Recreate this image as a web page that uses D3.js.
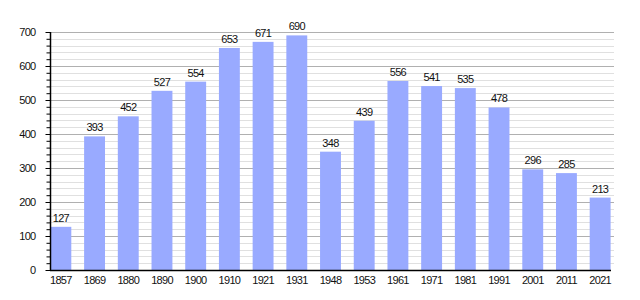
<!DOCTYPE html>
<html>
<head>
<meta charset="utf-8">
<script src="https://cdn.jsdelivr.net/npm/d3@7"></script>
<style>
body { margin: 0; background: #fff; }
svg text { font-family: "Liberation Sans", Arial, sans-serif; font-size: 11px; letter-spacing: -0.7px; fill: #111; }
</style>
</head>
<body>
<svg></svg>
<script>
const width = 640;
const height = 300;

const years = ["1857", "1869", "1880", "1890", "1900", "1910", "1921", "1931", "1948", "1953",
    "1961", "1971", "1981", "1991", "2001", "2011", "2021"];
const population = [127, 393, 452, 527, 554, 653, 671, 690, 348, 439, 556, 541, 535, 478, 296, 285, 213];
const yTicks = [0, 100, 200, 300, 400, 500, 600, 700];

const svg = d3.select("svg")
    .attr("width", width)
    .attr("height", height);

const x = d3.scaleBand()
    .domain(years)
    .range([44, 617])
    .paddingInner(0.38)
    .paddingOuter(0.19);

const y = d3.scaleLinear()
    .domain([0, 700])
    .range([270, 32]);

// grille mineure (tous les 20)
svg.append("g")
    .selectAll("line")
    .data(d3.range(20, 701, 20).filter(v => v % 100 !== 0))
    .enter().append("line")
    .attr("x1", 50).attr("x2", 614)
    .attr("y1", d => Math.round(y(d)) + 0.5)
    .attr("y2", d => Math.round(y(d)) + 0.5)
    .attr("stroke", "#e0e0e0");

// grille majeure
svg.append("g")
    .selectAll("line")
    .data(yTicks.slice(1))
    .enter().append("line")
    .attr("x1", 50).attr("x2", 614)
    .attr("y1", d => Math.round(y(d)) + 0.5)
    .attr("y2", d => Math.round(y(d)) + 0.5)
    .attr("stroke", "#b0b0b0");

// barres
svg.append("g")
    .selectAll("rect")
    .data(population)
    .enter().append("rect")
    .attr("x", (d, i) => x(years[i]))
    .attr("width", x.bandwidth())
    .attr("y", d => y(d))
    .attr("height", d => y(0) - y(d))
    .attr("fill", "#99aaff");

// valeurs
svg.append("g")
    .selectAll("text")
    .data(population)
    .enter().append("text")
    .attr("x", (d, i) => x(years[i]) + x.bandwidth() / 2)
    .attr("y", d => y(d) - 5)
    .attr("text-anchor", "middle")
    .text(d => d);

// axe y
const yAxis = d3.axisLeft(y).tickValues(yTicks).tickSize(5).tickPadding(10);
const yMinor = d3.axisLeft(y).tickValues(d3.range(0, 701, 20)).tickSize(4).tickFormat("");

svg.append("g")
    .attr("transform", "translate(50.5,0)")
    .call(yMinor)
    .call(g => g.select(".domain").remove())
    .selectAll("line").attr("stroke", "#000");

svg.append("g")
    .attr("transform", "translate(50.5,0)")
    .call(yAxis)
    .call(g => g.select(".domain").attr("d", "M0,32V270").attr("stroke", "#000").attr("stroke-width", 1.5))
    .call(g => g.selectAll("text").style("font-size", null));

// axe x
svg.append("g")
    .attr("transform", "translate(0,270.5)")
    .call(d3.axisBottom(x).tickSize(0).tickPadding(6))
    .call(g => g.select(".domain").attr("d", "M50,0H611").attr("stroke", "#000").attr("stroke-width", 1.5))
    .call(g => g.selectAll("text").style("font-size", null));
</script>
</body>
</html>
